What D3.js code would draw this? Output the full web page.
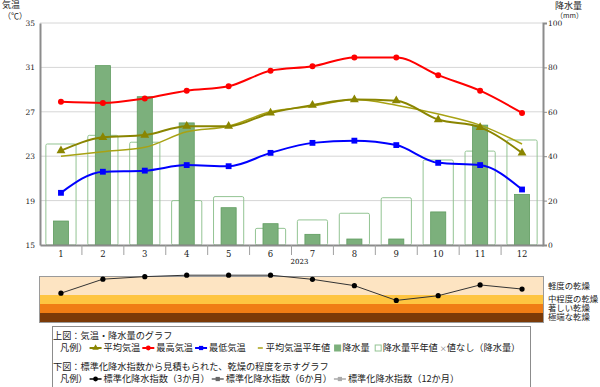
<!DOCTYPE html>
<html>
<head>
<meta charset="utf-8">
<script src="https://cdn.jsdelivr.net/npm/d3@7"></script>
<style>
  body { margin: 0; background: #fff; }
  svg { display: block; font-family: "Noto Sans CJK JP", "Noto Sans", sans-serif; }
</style>
</head>
<body>
<div id="chart"></div>
<script>
// chart values
const months = ['1', '2', '3', '4', '5', '6', '7', '8', '9', '10', '11', '12'];
const yearLabel = '2023';
const avgTemp = [23.5, 24.7, 24.9, 25.7, 25.7, 26.9, 27.6, 28.1, 28.0, 26.3, 25.6, 23.3];
const maxTemp = [27.9, 27.8, 28.2, 28.9, 29.3, 30.7, 31.1, 31.9, 31.9, 30.3, 28.9, 26.9];
const minTemp = [19.7, 21.6, 21.7, 22.2, 22.1, 23.3, 24.2, 24.4, 24.0, 22.4, 22.2, 20.0];
const normalTemp = [23.0, 23.4, 23.8, 25.2, 25.7, 27.0, 27.5, 28.1, 27.6, 26.8, 25.8, 24.1];
const precip = [10.8, 80.8, 66.8, 55, 16.8, 9.6, 4.8, 2.7, 2.7, 14.9, 54, 22.8];
const normalPrecip = [45.5, 49.4, 46.3, 20, 21.8, 7.5, 11.3, 14.3, 21.3, 38.3, 42.3, 47.3];
const spi3 = [-0.9, -0.12, 0.02, 0.1, 0.1, 0.1, -0.13, -0.48, -1.3, -1.04, -0.44, -0.67];
const tempTicks = [15, 19, 23, 27, 31, 35];
const precipTicks = [0, 20, 40, 60, 80, 100];
const droughtLevels = [
  { name: '軽度の乾燥', from: 0, to: -1, color: '#fde4c2' },
  { name: '中程度の乾燥', from: -1, to: -1.5, color: '#fec541' },
  { name: '著しい乾燥', from: -1.5, to: -2, color: '#f07d14' },
  { name: '極端な乾燥', from: -2, to: -2.5, color: '#7b3a08' }
];

class Chart {

  constructor(opts) {
    this.element = opts.element;
    this.draw();
  }

  draw() {
    this.width = 600;
    this.height = 387;
    this.plot = { left: 40, right: 543, top: 23, bottom: 245 };

    const svg = d3.select(this.element).append('svg')
      .attr('width', this.width)
      .attr('height', this.height);
    this.svg = svg;

    this.createScales();
    this.addGrid();
    this.addBars();
    this.addLines();
    this.addAxes();
    this.addDrought();
    this.addLegend();
  }

  createScales() {
    const p = this.plot;
    this.xScale = d3.scaleBand().domain(months).range([p.left, p.right]);
    this.tempScale = d3.scaleLinear().domain([15, 35]).range([p.bottom, p.top]);
    this.precipScale = d3.scaleLinear().domain([0, 100]).range([p.bottom, p.top]);
    this.spiScale = d3.scaleLinear().domain([0, -2.5]).range([277, 322]);
  }

  cx(i) {
    return this.xScale(months[i]) + this.xScale.bandwidth() / 2;
  }

  addGrid() {
    const p = this.plot;
    this.svg.append('g')
      .selectAll('line')
      .data(tempTicks.filter(d => d > 15))
      .enter().append('line')
        .attr('x1', p.left)
        .attr('x2', p.right)
        .attr('y1', d => this.tempScale(d))
        .attr('y2', d => this.tempScale(d))
        .attr('stroke', '#d6d6d6')
        .attr('stroke-width', 1);
  }

  addBars() {
    const bw = this.xScale.bandwidth();
    const y = this.precipScale;

    // normal precipitation: open bars
    this.svg.append('g')
      .selectAll('rect')
      .data(normalPrecip)
      .enter().append('rect')
        .attr('x', (d, i) => this.cx(i) - bw * 0.36)
        .attr('width', bw * 0.72)
        .attr('y', d => y(d))
        .attr('height', d => y(0) - y(d))
        .attr('rx', 1.5)
        .attr('fill', 'none')
        .attr('stroke', '#93c493')
        .attr('stroke-width', 1);

    // this year's precipitation
    this.svg.append('g')
      .selectAll('rect')
      .data(precip)
      .enter().append('rect')
        .attr('x', (d, i) => this.cx(i) - bw * 0.18)
        .attr('width', bw * 0.36)
        .attr('y', d => y(d))
        .attr('height', d => y(0) - y(d))
        .attr('fill', '#7cb07c')
        .attr('stroke', '#5f9c5f')
        .attr('stroke-width', 0.8);
  }

  addLines() {
    const line = d3.line()
      .x((d, i) => this.cx(i))
      .y(d => this.tempScale(d))
      .curve(d3.curveMonotoneX);

    this.svg.append('path')
      .attr('d', line(normalTemp))
      .attr('fill', 'none')
      .attr('stroke', '#a8a214')
      .attr('stroke-width', 1.5);

    const series = [
      { values: avgTemp, color: '#8a8500', shape: 'tri' },
      { values: maxTemp, color: '#ff0000', shape: 'circle' },
      { values: minTemp, color: '#0000ff', shape: 'square' }
    ];

    series.forEach(s => {
      this.svg.append('path')
        .attr('d', line(s.values))
        .attr('fill', 'none')
        .attr('stroke', s.color)
        .attr('stroke-width', 2);

      const sym = s.shape === 'tri' ? d3.symbolTriangle
        : s.shape === 'square' ? d3.symbolSquare : d3.symbolCircle;
      this.svg.append('g')
        .selectAll('path')
        .data(s.values)
        .enter().append('path')
          .attr('d', d3.symbol().type(sym).size(s.shape === 'circle' ? 28 : 34))
          .attr('transform', (d, i) => `translate(${this.cx(i)},${this.tempScale(d)})`)
          .attr('fill', s.color);
    });
  }

  addAxes() {
    const p = this.plot;

    const yLeft = d3.axisLeft(this.tempScale)
      .tickValues(tempTicks)
      .tickSize(0)
      .tickPadding(5);
    const gl = this.svg.append('g')
      .attr('transform', `translate(${p.left},0)`)
      .call(yLeft);

    const yRight = d3.axisRight(this.precipScale)
      .tickValues(precipTicks)
      .tickSize(4)
      .tickPadding(1);
    const gr = this.svg.append('g')
      .attr('transform', `translate(${p.right},0)`)
      .call(yRight);

    const xAxis = d3.axisBottom(this.xScale)
      .tickSize(0)
      .tickPadding(6);
    const gx = this.svg.append('g')
      .attr('transform', `translate(0,${p.bottom})`)
      .call(xAxis);

    [gl, gr, gx].forEach(g => {
      g.select('.domain').attr('stroke', '#8c8c8c').attr('stroke-width', 2);
      g.selectAll('.tick line').attr('stroke', '#8c8c8c');
      g.selectAll('text').attr('fill', '#222').style('font-size', '7.5px')
        .style('font-family', '"DejaVu Serif", serif');
    });
    gx.selectAll('text').style('font-size', '8.5px');

    // month separators
    this.svg.append('g')
      .selectAll('line')
      .data(months.slice(1))
      .enter().append('line')
        .attr('x1', d => this.xScale(d))
        .attr('x2', d => this.xScale(d))
        .attr('y1', p.bottom)
        .attr('y2', p.bottom + 10)
        .attr('stroke', '#a0a0a0');

    this.svg.append('text')
      .attr('x', (p.left + p.right) / 2 + 8)
      .attr('y', 264)
      .attr('text-anchor', 'middle')
      .style('font-size', '7px')
      .style('font-family', '"DejaVu Serif", serif')
      .text(yearLabel);

    // axis titles
    const titles = [
      { t: '気温', x: 2, y: 8, s: 9 },
      { t: '（℃）', x: 3, y: 19, s: 8 },
      { t: '降水量', x: 555, y: 9, s: 9 },
      { t: '（mm）', x: 556, y: 18, s: 7 }
    ];
    this.svg.append('g')
      .selectAll('text')
      .data(titles)
      .enter().append('text')
        .attr('x', d => d.x)
        .attr('y', d => d.y)
        .style('font-size', d => d.s + 'px')
        .attr('fill', '#222')
        .text(d => d.t);
  }

  addDrought() {
    const p = this.plot;
    const y = this.spiScale;

    this.svg.append('g')
      .selectAll('rect')
      .data(droughtLevels)
      .enter().append('rect')
        .attr('x', p.left)
        .attr('width', p.right - p.left)
        .attr('y', d => y(d.from))
        .attr('height', d => y(d.to) - y(d.from))
        .attr('fill', d => d.color);

    this.svg.append('rect')
      .attr('x', p.left - 0.5)
      .attr('y', y(0) - 0.5)
      .attr('width', p.right - p.left + 1)
      .attr('height', y(-2.5) - y(0) + 1)
      .attr('fill', 'none')
      .attr('stroke', '#9a9a9a');

    const spiLine = d3.line()
      .x((d, i) => this.cx(i))
      .y(d => y(d));

    this.svg.append('path')
      .attr('d', spiLine(spi3))
      .attr('fill', 'none')
      .attr('stroke', '#333')
      .attr('stroke-width', 1);

    this.svg.append('g')
      .selectAll('circle')
      .data(spi3)
      .enter().append('circle')
        .attr('cx', (d, i) => this.cx(i))
        .attr('cy', d => y(d))
        .attr('r', 2.6)
        .attr('fill', '#000');

    const labelY = [286, 299, 308, 317.5];
    this.svg.append('g')
      .selectAll('text')
      .data(droughtLevels)
      .enter().append('text')
        .attr('x', 548)
        .attr('y', (d, i) => labelY[i])
        .attr('dy', '0.35em')
        .style('font-size', '8.4px')
        .attr('fill', '#222')
        .text(d => d.name);
  }

  // lay out one legend row left to right: text items and symbols
  legendRow(g, y, x0, parts) {
    let x = x0;
    parts.forEach(part => {
      if (part.text) {
        const t = g.append('text')
          .attr('x', x)
          .attr('y', y)
          .attr('dy', '0.35em')
          .style('font-size', '9.2px')
          .attr('fill', '#222')
          .text(part.text);
        x += t.node().getComputedTextLength() + (part.gap || 2);
      } else {
        x += part.pad || 0;
        part.draw(x, y);
        x += part.width + 2;
      }
    });
  }

  addLegend() {
    const g = this.svg.append('g');

    g.append('rect')
      .attr('x', 52.5)
      .attr('y', 326.5)
      .attr('width', 478)
      .attr('height', 80)
      .attr('fill', '#fff')
      .attr('stroke', '#8c8c8c');

    const heads = [
      { t: '上図：気温・降水量のグラフ', y: 336 },
      { t: '下図：標準化降水指数から見積もられた、乾燥の程度を示すグラフ', y: 367 }
    ];
    g.selectAll('.head')
      .data(heads)
      .enter().append('text')
        .attr('class', 'head')
        .attr('x', 53)
        .attr('y', d => d.y)
        .attr('dy', '0.35em')
        .style('font-size', '9.2px')
        .attr('fill', '#222')
        .text(d => d.t);

    const lineSym = (color, shape, w) => ({
      width: 12,
      draw: (x, y) => {
        g.append('line')
          .attr('x1', x).attr('x2', x + 12)
          .attr('y1', y).attr('y2', y)
          .attr('stroke', color).attr('stroke-width', w);
        if (shape) {
          g.append('path')
            .attr('d', d3.symbol().type(shape).size(18))
            .attr('transform', `translate(${x + 6},${y})`)
            .attr('fill', color);
        }
      }
    });

    const boxSym = (fill, stroke) => ({
      width: 6,
      pad: 2,
      draw: (x, y) => {
        g.append('rect')
          .attr('x', x + 0.5).attr('y', y - 3)
          .attr('width', 6).attr('height', 6)
          .attr('fill', fill)
          .attr('stroke', stroke);
      }
    });

    const dashSym = {
      width: 6,
      pad: 10,
      draw: (x, y) => {
        g.append('line')
          .attr('x1', x).attr('x2', x + 5)
          .attr('y1', y).attr('y2', y)
          .attr('stroke', '#a8a214').attr('stroke-width', 1.5);
      }
    };

    const crossSym = {
      width: 5,
      draw: (x, y) => {
        g.append('text')
          .attr('x', x).attr('y', y + 1)
          .attr('dy', '0.35em')
          .style('font-size', '7px')
          .attr('fill', '#666')
          .text('×');
      }
    };

    this.legendRow(g, 348, 60, [
      { text: '凡例）' },
      lineSym('#8a8500', d3.symbolTriangle, 2),
      { text: '平均気温' },
      lineSym('#ff0000', d3.symbolCircle, 2),
      { text: '最高気温' },
      lineSym('#0000ff', d3.symbolSquare, 2),
      { text: '最低気温' },
      dashSym,
      { text: '平均気温平年値' },
      boxSym('#7cb07c', '#7cb07c'),
      { text: '降水量', gap: 3 },
      boxSym('#fff', '#93c493'),
      { text: '降水量平年値' },
      crossSym,
      { text: '値なし（降水量）' }
    ]);

    this.legendRow(g, 379, 60, [
      { text: '凡例）' },
      lineSym('#000', d3.symbolCircle, 1.5),
      { text: '標準化降水指数（3か月）' },
      lineSym('#666', d3.symbolSquare, 1.5),
      { text: '標準化降水指数（6か月）' },
      lineSym('#aaa', d3.symbolSquare, 1.5),
      { text: '標準化降水指数（12か月）' }
    ]);
  }
}

new Chart({ element: document.querySelector('#chart') });
</script>
</body>
</html>
